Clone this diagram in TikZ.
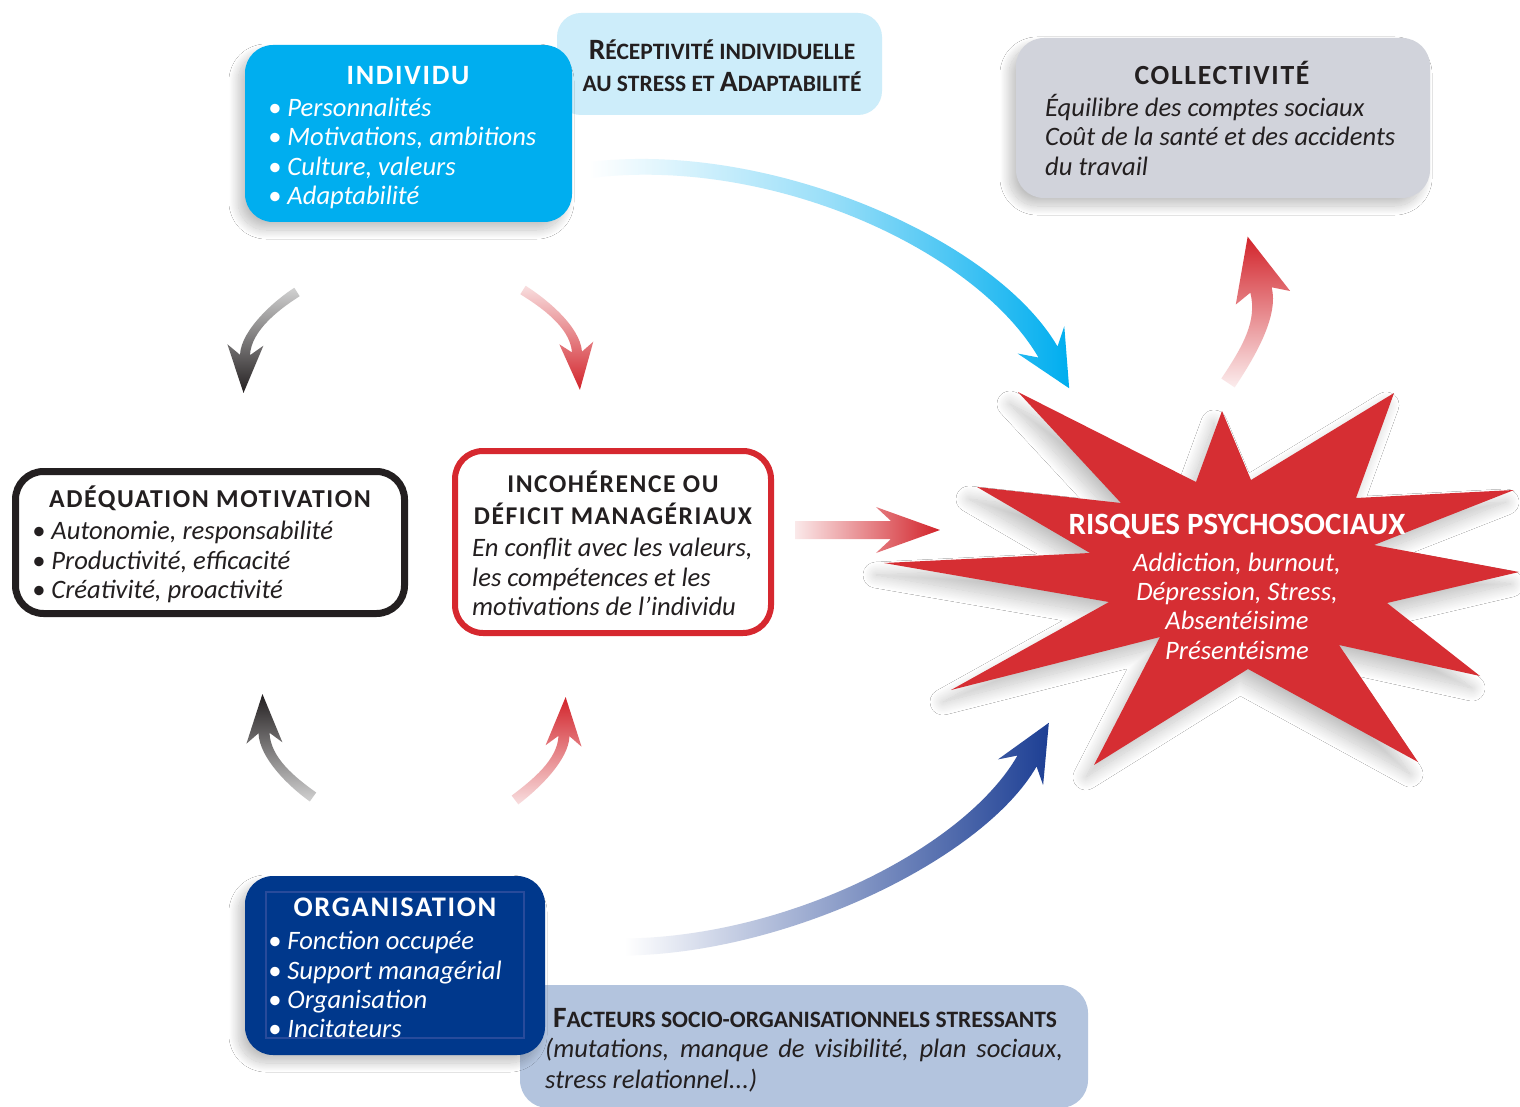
\documentclass[tikz,border=0pt]{standalone}
\usepackage{fontspec}
\setmainfont{Carlito}
\usetikzlibrary{calc,shadows.blur}

\definecolor{cyanA}{RGB}{0,174,239}
\definecolor{cyanL}{RGB}{205,237,250}
\definecolor{grayC}{RGB}{209,211,219}
\definecolor{ink}{RGB}{35,31,32}
\definecolor{redB}{RGB}{214,40,47}
\definecolor{redS}{RGB}{214,46,51}
\definecolor{navy}{RGB}{0,56,140}
\definecolor{navyL}{RGB}{40,75,155}
\definecolor{blueF}{RGB}{179,196,222}
\definecolor{blueA}{RGB}{29,63,148}
\definecolor{redA}{RGB}{210,35,42}

\newcommand\bigc[1]{{\fontsize{29.5}{34}\selectfont #1}}

% #1 shading options, #2 prefix, #3 h0, #4 h3, #5 barb back, #6 half head width, #7 head length
\newcommand\gradarrow[7]{%
  \path ($(#20)!#3!90:(#21)$) coordinate (#2a0)
        ($(#21)!#3!-90:(#20)$) coordinate (#2a1)
        ($(#22)!#4!90:(#23)$) coordinate (#2a2)
        ($(#23)!#4!-90:(#22)$) coordinate (#2a3)
        ($(#20)!#3!-90:(#21)$) coordinate (#2b0)
        ($(#21)!#3!90:(#20)$) coordinate (#2b1)
        ($(#22)!#4!-90:(#23)$) coordinate (#2b2)
        ($(#23)!#4!90:(#22)$) coordinate (#2b3)
        ($(#23)!#5!(#22)$) coordinate (#2k)
        ($(#23)!-#7!(#22)$) coordinate (#2t);
  \path ($(#2k)!#6!90:(#23)$) coordinate (#2ha)
        ($(#2k)!#6!-90:(#23)$) coordinate (#2hb);
  \shade[#1] (#2a0) .. controls (#2a1) and (#2a2) .. (#2a3) -- (#2ha) -- (#2t)
     -- (#2hb) -- (#2b3) .. controls (#2b2) and (#2b1) .. (#2b0) -- cycle;
}

\tikzset{
  panel/.style={rounded corners=28pt, inner sep=0pt},
  boxshadow/.style={blur shadow={shadow xshift=-7pt, shadow yshift=-8pt, shadow blur radius=9pt, shadow blur steps=24, shadow opacity=24}},
  itemtxt/.style={anchor=base west, inner sep=0pt, font=\fontsize{26.6}{29}\selectfont\itshape},
  ctrtxt/.style={anchor=base, inner sep=0pt, font=\fontsize{26.6}{29}\selectfont\itshape},
  titletxt/.style={anchor=base, inner sep=0pt, font=\fontsize{25.6}{30}\selectfont\bfseries\addfontfeature{LetterSpace=6}},
  sctxt/.style={inner sep=0pt, font=\fontsize{23.5}{28}\selectfont\bfseries, text=ink},
}

\begin{document}
\begin{tikzpicture}[x=1pt,y=-1pt]
\useasboundingbox (0,0) rectangle (1520,1107);
\fill[white] (0,0) rectangle (1520,1107);

% ---------- background label boxes ----------
\node[panel, rounded corners=24pt, fill=cyanL, minimum width=325pt, minimum height=102pt] (recep) at (719.5,64) {};
\node[sctxt, anchor=base] (recep1) at (722,60) {\bigc{R}ÉCEPTIVITÉ INDIVIDUELLE};
\node[sctxt, anchor=base] (recep2) at (722,92) {AU STRESS ET \bigc{A}DAPTABILITÉ};

\node[panel, fill=blueF, minimum width=568pt, minimum height=123pt] (fact) at (804,1046.5) {};
\node[sctxt, anchor=base west] (fact1) at (553,1027) {\bigc{F}ACTEURS SOCIO-ORGANISATIONNELS STRESSANTS};
\node[anchor=north west, inner sep=0pt, text width=518pt, align=justify, text=ink,
      font=\fontsize{26.6}{31}\selectfont\itshape] (fact2) at (545,1038)
      {(mutations, manque de visibilité, plan sociaux, stress relationnel...)};

% ---------- INDIVIDU ----------
\node[panel, fill=cyanA, minimum width=327pt, minimum height=177pt, boxshadow] (indiv) at (408.5,133.5) {};
\node[titletxt, text=white, font=\fontsize{28}{30}\selectfont\bfseries\addfontfeature{LetterSpace=6}] (indivT) at (408,85) {INDIVIDU};
\node[itemtxt, text=white] (indiv1) at (268,117) {• Personnalités};
\node[itemtxt, text=white] (indiv2) at (268,146) {• Motivations, ambitions};
\node[itemtxt, text=white] (indiv3) at (268,176) {• Culture, valeurs};
\node[itemtxt, text=white] (indiv4) at (268,205) {• Adaptabilité};

% ---------- COLLECTIVITE ----------
\node[panel, fill=grayC, minimum width=414pt, minimum height=160pt, boxshadow] (coll) at (1223,118) {};
\node[titletxt, text=ink, font=\fontsize{27.7}{30}\selectfont\bfseries\addfontfeature{LetterSpace=6}] (collT) at (1222,85) {COLLECTIVITÉ};
\node[itemtxt, text=ink] (coll1) at (1045,117) {Équilibre des comptes sociaux};
\node[itemtxt, text=ink] (coll2) at (1045,146) {Coût de la santé et des accidents};
\node[itemtxt, text=ink] (coll3) at (1045,176) {du travail};

% ---------- ADEQUATION ----------
\node[panel, draw=ink, line width=7pt, fill=white, minimum width=389pt, minimum height=142pt] (adeq) at (210,542.5) {};
\node[titletxt, text=ink, font=\fontsize{25.8}{30}\selectfont\bfseries\addfontfeature{LetterSpace=6}] (adeqT) at (210,507) {ADÉQUATION MOTIVATION};
\node[itemtxt, text=ink] (adeq1) at (32,539) {• Autonomie, responsabilité};
\node[itemtxt, text=ink] (adeq2) at (32,569) {• Productivité, efficacité};
\node[itemtxt, text=ink] (adeq3) at (32,598) {• Créativité, proactivité};

% ---------- INCOHERENCE ----------
\node[panel, draw=redB, line width=6pt, fill=white, minimum width=316pt, minimum height=182pt] (inco) at (613,542) {};
\node[titletxt, text=ink] (incoT1) at (613,492) {INCOHÉRENCE OU};
\node[titletxt, text=ink] (incoT2) at (613,524) {DÉFICIT MANAGÉRIAUX};
\node[itemtxt, text=ink] (inco1) at (472,556) {En conflit avec les valeurs,};
\node[itemtxt, text=ink] (inco2) at (472,586) {les compétences et les};
\node[itemtxt, text=ink] (inco3) at (472,615) {motivations de l’individu};

% ---------- ORGANISATION ----------
\node[panel, fill=navy, minimum width=300pt, minimum height=179pt, boxshadow] (orga) at (395,965.5) {};
\node[draw=navyL, line width=1.5pt, inner sep=0pt, minimum width=258pt, minimum height=146pt] (orgaIn) at (395,965) {};
\node[titletxt, text=white, font=\fontsize{28.4}{30}\selectfont\bfseries\addfontfeature{LetterSpace=6}] (orgaT) at (395,916) {ORGANISATION};
\node[itemtxt, text=white] (orga1) at (268,949) {• Fonction occupée};
\node[itemtxt, text=white] (orga2) at (268,979) {• Support managérial};
\node[itemtxt, text=white] (orga3) at (268,1008) {• Organisation};
\node[itemtxt, text=white] (orga4) at (268,1037) {• Incitateurs};

% ---------- STAR ----------
\fill[redS, blur shadow={shadow xshift=-8pt, shadow yshift=-12pt, shadow blur radius=13pt, shadow blur steps=24, shadow opacity=24}]
  (1018,392) -- (1196,482) -- (1222,411) -- (1251,480) -- (1394,393) -- (1356,498)
  -- (1514,490) -- (1374,545) -- (1519,572) -- (1387,603) -- (1480,676) -- (1339,645)
  -- (1418,762) -- (1248,669) -- (1094,765) -- (1160,637) -- (951,690) -- (1109,602)
  -- (884,563) -- (1090,553) -- (977,487) -- (1121,503) -- cycle;
\node[anchor=base, inner sep=0pt, text=white, font=\fontsize{31}{34}\selectfont\bfseries] (risqT) at (1237,534) {RISQUES PSYCHOSOCIAUX};
\node[ctrtxt, text=white] (risq1) at (1237,571) {Addiction, burnout,};
\node[ctrtxt, text=white] (risq2) at (1237,600) {Dépression, Stress,};
\node[ctrtxt, text=white] (risq3) at (1237,629) {Absentéisime};
\node[ctrtxt, text=white] (risq4) at (1237,659) {Présentéisme};

% ---------- ARROWS ----------
% black top-left
\coordinate (bk0) at (297,292); \coordinate (bk1) at (278,304);
\coordinate (bk2) at (246,330); \coordinate (bk3) at (245,355);
\gradarrow{top color=black!18, bottom color=ink}{bk}{5pt}{5pt}{10pt}{18pt}{38pt}
% red top
\coordinate (rd0) at (523,290); \coordinate (rd1) at (542,302);
\coordinate (rd2) at (575,326); \coordinate (rd3) at (577,352);
\gradarrow{top color=redA!15, bottom color=redA}{rd}{5pt}{5pt}{9pt}{17pt}{38pt}
% black bottom
\coordinate (bb0) at (313,797); \coordinate (bb1) at (292,782);
\coordinate (bb2) at (265,758); \coordinate (bb3) at (264,733);
\gradarrow{bottom color=black!18, top color=ink}{bb}{5.5pt}{5.5pt}{10pt}{18pt}{39pt}
% red bottom
\coordinate (rb0) at (515,800); \coordinate (rb1) at (536,784);
\coordinate (rb2) at (563,760); \coordinate (rb3) at (564,736);
\gradarrow{bottom color=redA!15, top color=redA}{rb}{5.5pt}{5.5pt}{10pt}{18pt}{39pt}
% cyan big
\coordinate (cy0) at (590,170); \coordinate (cy1) at (770,148);
\coordinate (cy2) at (985,244); \coordinate (cy3) at (1048,352);
\gradarrow{left color=white, right color=cyanA, middle color=cyanA!40}{cy}{8pt}{11pt}{14pt}{27pt}{42pt}
% navy big
\coordinate (nv0) at (625,947); \coordinate (nv1) at (790,945);
\coordinate (nv2) at (975,852); \coordinate (nv3) at (1027,761);
\gradarrow{left color=white, right color=blueA}{nv}{8.5pt}{11pt}{13pt}{26pt}{44pt}
% red up from star
\coordinate (ru0) at (1228,383); \coordinate (ru1) at (1250,350);
\coordinate (ru2) at (1268,318); \coordinate (ru3) at (1261,290);
\gradarrow{bottom color=redA!8, top color=redA}{ru}{8pt}{11pt}{8pt}{28pt}{55pt}
% red right
\coordinate (rr0) at (795,530); \coordinate (rr1) at (830,530);
\coordinate (rr2) at (860,530); \coordinate (rr3) at (891,530);
\gradarrow{left color=redA!10, right color=redA}{rr}{9pt}{9pt}{15pt}{23pt}{49pt}

\end{tikzpicture}
\end{document}
